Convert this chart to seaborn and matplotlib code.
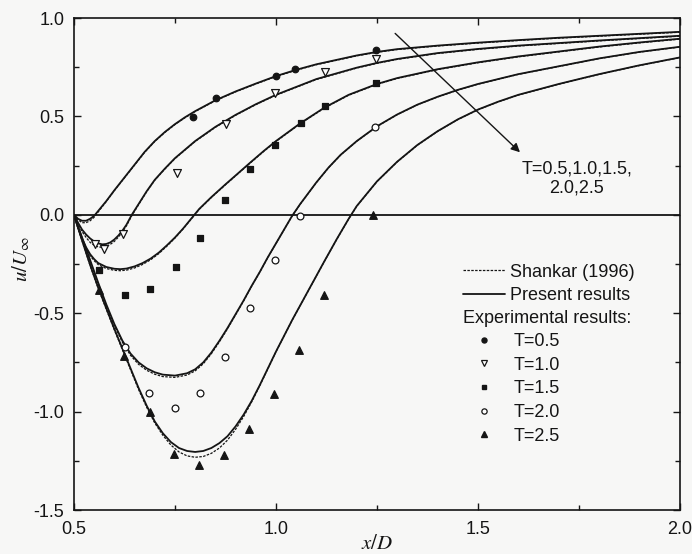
import matplotlib
matplotlib.use("Agg")
import matplotlib.pyplot as plt
from matplotlib.lines import Line2D
from matplotlib.ticker import MultipleLocator, FormatStrFormatter
import seaborn as sns

# ---------------- velocity profiles u/U_inf along x/D ----------------
# T = 0.5
x_t05 = [0.50, 0.51, 0.52, 0.53, 0.54, 0.55, 0.56, 0.58, 0.60, 0.625, 0.65, 0.675,
         0.70, 0.725, 0.75, 0.775, 0.80, 0.85, 0.90, 0.95, 1.00, 1.05, 1.10, 1.20,
         1.25, 1.30, 1.40, 1.50, 1.60, 1.70, 1.80, 1.90, 2.00]
u_t05_present = [0.0, -0.02, -0.03, -0.03, -0.02, -0.005, 0.02, 0.07, 0.125, 0.19, 0.255,
                 0.32, 0.375, 0.421, 0.461, 0.496, 0.527, 0.582, 0.627, 0.667, 0.705,
                 0.737, 0.765, 0.81, 0.828, 0.842, 0.86, 0.875, 0.888, 0.90, 0.91, 0.92,
                 0.93]
u_t05_shankar = [0.0, -0.025, -0.04, -0.04, -0.03, -0.012, 0.015, 0.068, 0.123, 0.188,
                 0.253, 0.318, 0.373, 0.419, 0.459, 0.494, 0.525, 0.58, 0.625, 0.665,
                 0.703, 0.735, 0.763, 0.808, 0.826, 0.84, 0.858, 0.873, 0.886, 0.898,
                 0.908, 0.918, 0.928]

# T = 1.0
x_t10 = [0.50, 0.51, 0.52, 0.53, 0.54, 0.55, 0.56, 0.57, 0.58, 0.59, 0.60, 0.61, 0.62,
         0.63, 0.643, 0.66, 0.68, 0.70, 0.725, 0.75, 0.80, 0.85, 0.90, 0.95, 1.00, 1.10,
         1.20, 1.25, 1.30, 1.40, 1.50, 1.60, 1.70, 1.80, 1.90, 2.00]
u_t10_present = [0.0, -0.04, -0.075, -0.10, -0.12, -0.135, -0.145, -0.15, -0.148, -0.14,
                 -0.125, -0.105, -0.08, -0.05, 0.0, 0.055, 0.12, 0.178, 0.235, 0.288,
                 0.375, 0.447, 0.508, 0.562, 0.61, 0.69, 0.748, 0.772, 0.792, 0.822,
                 0.843, 0.86, 0.873, 0.886, 0.898, 0.91]
u_t10_shankar = [0.0, -0.045, -0.085, -0.115, -0.14, -0.155, -0.163, -0.165, -0.16, -0.15,
                 -0.135, -0.113, -0.087, -0.055, -0.005, 0.052, 0.118, 0.176, 0.233, 0.286,
                 0.373, 0.445, 0.506, 0.56, 0.608, 0.688, 0.746, 0.77, 0.79, 0.82,
                 0.841, 0.858, 0.871, 0.884, 0.896, 0.908]

# T = 1.5
x_t15 = [0.50, 0.51, 0.52, 0.53, 0.54, 0.55, 0.56, 0.58, 0.60, 0.615, 0.63, 0.65, 0.67,
         0.69, 0.71, 0.73, 0.75, 0.77, 0.79, 0.81, 0.84, 0.875, 0.90, 0.936, 0.97, 1.00,
         1.06, 1.12, 1.18, 1.25, 1.30, 1.40, 1.50, 1.60, 1.70, 1.80, 1.90, 2.00]
u_t15_present = [0.0, -0.065, -0.12, -0.165, -0.20, -0.225, -0.245, -0.265, -0.274, -0.276,
                 -0.273, -0.262, -0.245, -0.222, -0.192, -0.155, -0.115, -0.07, -0.02, 0.03,
                 0.09, 0.155, 0.20, 0.265, 0.325, 0.375, 0.465, 0.545, 0.61, 0.665, 0.695,
                 0.74, 0.775, 0.805, 0.83, 0.855, 0.876, 0.895]
u_t15_shankar = [0.0, -0.068, -0.125, -0.172, -0.208, -0.233, -0.253, -0.273, -0.282, -0.284,
                 -0.281, -0.27, -0.252, -0.228, -0.197, -0.159, -0.118, -0.072, -0.022, 0.028,
                 0.088, 0.153, 0.198, 0.263, 0.323, 0.373, 0.463, 0.543, 0.608, 0.663, 0.693,
                 0.738, 0.773, 0.803, 0.828, 0.853, 0.874, 0.893]

# T = 2.0
x_t20 = [0.50, 0.52, 0.54, 0.56, 0.58, 0.60, 0.62, 0.64, 0.66, 0.68, 0.70, 0.72, 0.75,
         0.78, 0.80, 0.82, 0.84, 0.86, 0.88, 0.90, 0.92, 0.94, 0.96, 0.98, 1.00, 1.02,
         1.04, 1.06, 1.08, 1.10, 1.13, 1.16, 1.20, 1.25, 1.30, 1.35, 1.40, 1.45, 1.50,
         1.60, 1.70, 1.80, 1.90, 2.00]
u_t20_present = [0.0, -0.115, -0.23, -0.345, -0.455, -0.555, -0.64, -0.705, -0.75, -0.78,
                 -0.80, -0.812, -0.817, -0.805, -0.785, -0.75, -0.70, -0.64, -0.575, -0.505,
                 -0.435, -0.36, -0.29, -0.215, -0.145, -0.075, -0.005, 0.055, 0.11, 0.165,
                 0.24, 0.305, 0.375, 0.45, 0.51, 0.56, 0.60, 0.635, 0.665, 0.715, 0.755,
                 0.795, 0.828, 0.854]
u_t20_shankar = [0.0, -0.118, -0.235, -0.352, -0.463, -0.563, -0.648, -0.714, -0.76, -0.79,
                 -0.81, -0.822, -0.826, -0.814, -0.793, -0.757, -0.706, -0.645, -0.579,
                 -0.508, -0.437, -0.362, -0.291, -0.216, -0.146, -0.076, -0.006, 0.054,
                 0.109, 0.164, 0.239, 0.304, 0.374, 0.449, 0.509, 0.559, 0.599, 0.634,
                 0.664, 0.714, 0.754, 0.794, 0.827, 0.853]

# T = 2.5
x_t25 = [0.50, 0.52, 0.54, 0.56, 0.58, 0.60, 0.62, 0.64, 0.66, 0.68, 0.70, 0.72, 0.74,
         0.76, 0.78, 0.80, 0.82, 0.84, 0.86, 0.88, 0.90, 0.92, 0.94, 0.96, 0.98, 1.00,
         1.02, 1.04, 1.06, 1.08, 1.10, 1.12, 1.15, 1.18, 1.20, 1.25, 1.30, 1.35, 1.40,
         1.45, 1.50, 1.55, 1.60, 1.70, 1.80, 1.90, 2.00]
u_t25_present = [0.0, -0.13, -0.255, -0.37, -0.475, -0.58, -0.68, -0.78, -0.88, -0.97,
                 -1.05, -1.11, -1.155, -1.185, -1.20, -1.205, -1.20, -1.185, -1.16, -1.125,
                 -1.075, -1.015, -0.945, -0.865, -0.78, -0.695, -0.615, -0.535, -0.46,
                 -0.385, -0.31, -0.235, -0.125, -0.02, 0.045, 0.17, 0.27, 0.355, 0.425,
                 0.485, 0.535, 0.575, 0.61, 0.665, 0.715, 0.76, 0.80]
u_t25_shankar = [0.0, -0.132, -0.258, -0.374, -0.48, -0.585, -0.686, -0.787, -0.888, -0.978,
                 -1.058, -1.12, -1.17, -1.205, -1.225, -1.232, -1.228, -1.212, -1.185,
                 -1.145, -1.09, -1.025, -0.95, -0.868, -0.782, -0.696, -0.616, -0.536,
                 -0.461, -0.386, -0.311, -0.236, -0.126, -0.021, 0.044, 0.169, 0.269,
                 0.354, 0.424, 0.484, 0.534, 0.574, 0.609, 0.664, 0.714, 0.759, 0.799]

# ---------------- experimental results ----------------
exp_x_t05 = [0.794, 0.851, 0.999, 1.048, 1.247]
exp_u_t05 = [0.496, 0.592, 0.708, 0.741, 0.840]
exp_x_t10 = [0.552, 0.575, 0.622, 0.754, 0.876, 0.998, 1.121, 1.247]
exp_u_t10 = [-0.146, -0.175, -0.095, 0.213, 0.463, 0.619, 0.726, 0.794]
exp_x_t15 = [0.563, 0.626, 0.688, 0.752, 0.812, 0.875, 0.936, 0.998, 1.061, 1.122, 1.247]
exp_u_t15 = [-0.282, -0.407, -0.376, -0.264, -0.120, 0.075, 0.233, 0.357, 0.466, 0.551, 0.670]
exp_x_t20 = [0.626, 0.686, 0.749, 0.811, 0.874, 0.935, 0.998, 1.059, 1.245]
exp_u_t20 = [-0.673, -0.903, -0.983, -0.903, -0.721, -0.474, -0.230, -0.005, 0.445]
exp_x_t25 = [0.562, 0.624, 0.688, 0.748, 0.809, 0.871, 0.934, 0.995, 1.058, 1.120, 1.241]
exp_u_t25 = [-0.383, -0.719, -1.000, -1.213, -1.272, -1.221, -1.090, -0.910, -0.689, -0.408, -0.002]

exp_labels = ["T=0.5", "T=1.0", "T=1.5", "T=2.0", "T=2.5"]

# ---------------- styling ----------------
sns.set_theme(style="ticks")
plt.rcParams["font.family"] = ["Liberation Sans", "DejaVu Sans"]
plt.rcParams["mathtext.fontset"] = "stix"

BG = "#f7f7f6"
INK = "#151515"
FS = 13
SHANKAR_DASH = (0, (2.0, 1.1))

fig = plt.figure(figsize=(6.92, 5.54), dpi=100, facecolor=BG)
ax = fig.add_axes([0.1069, 0.0794, 0.8757, 0.888])
ax.set_facecolor(BG)

profiles = [
    (x_t05, u_t05_present, u_t05_shankar),
    (x_t10, u_t10_present, u_t10_shankar),
    (x_t15, u_t15_present, u_t15_shankar),
    (x_t20, u_t20_present, u_t20_shankar),
    (x_t25, u_t25_present, u_t25_shankar),
]
for xs, u_present, u_shankar in profiles:
    sns.lineplot(x=xs, y=u_shankar, ax=ax, color=INK, lw=0.9, linestyle=SHANKAR_DASH,
                 estimator=None, sort=False)
    sns.lineplot(x=xs, y=u_present, ax=ax, color=INK, lw=1.3,
                 estimator=None, sort=False)

# zero-velocity reference line
ax.axhline(0.0, color=INK, lw=1.3, zorder=1)

# experimental markers
marker_specs = [
    (exp_x_t05, exp_u_t05, "o", INK, 22),
    (exp_x_t10, exp_u_t10, "v", "white", 32),
    (exp_x_t15, exp_u_t15, "s", INK, 18),
    (exp_x_t20, exp_u_t20, "o", "white", 24),
    (exp_x_t25, exp_u_t25, "^", INK, 30),
]
for xs, us, mk, face, size in marker_specs:
    sns.scatterplot(x=xs, y=us, ax=ax, marker=mk, s=size, facecolor=face,
                    edgecolor=INK, linewidth=0.9, zorder=5)

# axes, ticks and labels
ax.set_xlim(0.5, 2.0)
ax.set_ylim(-1.5, 1.0)
ax.xaxis.set_major_locator(MultipleLocator(0.5))
ax.xaxis.set_minor_locator(MultipleLocator(0.25))
ax.yaxis.set_major_locator(MultipleLocator(0.5))
ax.yaxis.set_minor_locator(MultipleLocator(0.25))
ax.xaxis.set_major_formatter(FormatStrFormatter("%.1f"))
ax.yaxis.set_major_formatter(FormatStrFormatter("%.1f"))
ax.tick_params(which="both", direction="in", top=True, right=True, color=INK,
               labelcolor=INK, labelsize=FS, width=1.0)
ax.tick_params(which="major", length=5)
ax.tick_params(which="minor", length=3.5)
ax.tick_params(axis="x", pad=8)
ax.tick_params(axis="y", pad=7)
for sp in ax.spines.values():
    sp.set_visible(True)
    sp.set_color(INK)
    sp.set_linewidth(1.2)

ax.set_xlabel(r"$x/D$", fontsize=15, color=INK)
ax.set_ylabel(r"$u/U_{\infty}$", fontsize=15, color=INK)
ax.xaxis.set_label_coords(0.5, -0.048)
ax.yaxis.set_label_coords(-0.07, 0.51)

# arrow pointing in the direction of increasing T
ax.annotate("", xy=(1.604, 0.318), xytext=(1.295, 0.922),
            arrowprops=dict(arrowstyle="-|>", color=INK, lw=1.0, mutation_scale=13,
                            shrinkA=0, shrinkB=0))
ax.text(1.745, 0.184, "T=0.5,1.0,1.5,\n2.0,2.5", ha="center", va="center",
        fontsize=FS, color=INK, linespacing=1.2)

# legend: simulations
line_handles = [
    Line2D([], [], color=INK, lw=0.9, linestyle=SHANKAR_DASH),
    Line2D([], [], color=INK, lw=1.3),
]
leg1 = ax.legend(line_handles, ["Shankar (1996)", "Present results"], loc="upper left",
                 bbox_to_anchor=(0.642, 0.5006), frameon=False, fontsize=FS,
                 handlelength=2.3, handletextpad=0.3, labelspacing=0.37,
                 borderpad=0, borderaxespad=0)
for t in leg1.get_texts():
    t.set_color(INK)
ax.add_artist(leg1)

ax.text(0.642, 0.390, "Experimental results:", transform=ax.transAxes,
        ha="left", va="center", fontsize=FS, color=INK)

# legend: experiments
marker_handles = [
    Line2D([], [], ls="none", marker="o", ms=3.6, mfc=INK, mec=INK),
    Line2D([], [], ls="none", marker="v", ms=4.2, mfc="white", mec=INK, mew=0.9),
    Line2D([], [], ls="none", marker="s", ms=3.4, mfc=INK, mec=INK),
    Line2D([], [], ls="none", marker="o", ms=3.8, mfc="white", mec=INK, mew=0.9),
    Line2D([], [], ls="none", marker="^", ms=4.0, mfc=INK, mec=INK),
]
leg2 = ax.legend(marker_handles, exp_labels, loc="upper left",
                 bbox_to_anchor=(0.662, 0.360), frameon=False, fontsize=FS,
                 handlelength=1.0, handletextpad=1.15, labelspacing=0.37,
                 borderpad=0, borderaxespad=0)
for t in leg2.get_texts():
    t.set_color(INK)

fig.savefig("out.png", dpi=100, facecolor=BG)
